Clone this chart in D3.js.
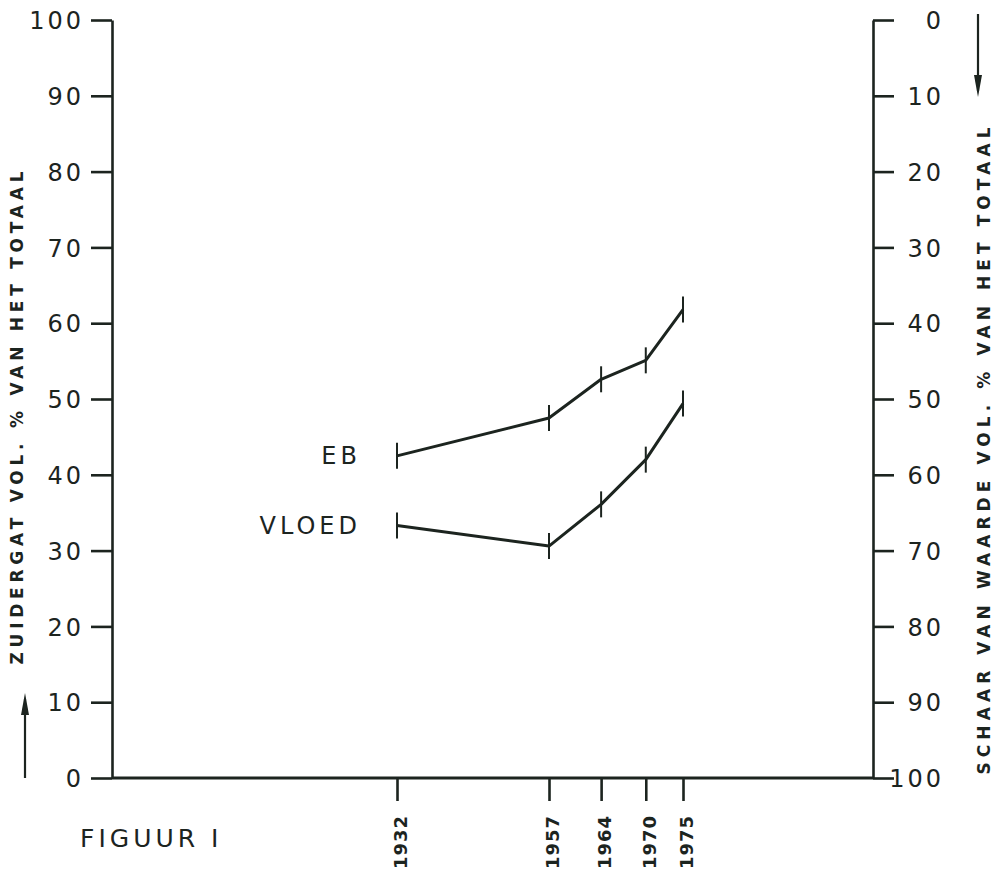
<!DOCTYPE html>
<html>
  <head>
    <meta charset="utf-8">
    <title>Figuur I</title>
    <script src="https://d3js.org/d3.v7.min.js"></script>
    <style>
      body { margin: 0; background: #fff; }
      svg { display: block; }
      text { font-family: "DejaVu Sans", sans-serif; fill: #1c241f; }
      .axis path, .axis line { stroke: #1c241f; stroke-width: 2.6; }
      .axis text { font-size: 24px; letter-spacing: 3px; }
      .xaxis text { font-size: 18px; font-weight: bold; letter-spacing: 1px; }
      .series { fill: none; stroke: #1c241f; stroke-width: 3; stroke-linejoin: round; }
      .marker { stroke: #1c241f; stroke-width: 2; }
      .label { font-size: 24px; letter-spacing: 4px; }
      .title { font-size: 17px; font-weight: bold; }
    </style>
  </head>
  <body>
    <svg id="chart" width="997" height="871"></svg>
    <script>
      // data
      years = [1932, 1957, 1964, 1970, 1975];
      eb = [42.5, 47.5, 52.6, 55.1, 61.8];
      vloed = [33.3, 30.6, 36.1, 42.0, 49.4];
      seriesNames = ["EB", "VLOED"];
      yTicks = [0, 10, 20, 30, 40, 50, 60, 70, 80, 90, 100];
      leftTitle = "ZUIDERGAT   VOL. % VAN HET TOTAAL";
      rightTitle = "SCHAAR VAN WAARDE   VOL. % VAN HET TOTAAL";
      caption = "FIGUUR I";

      // layout
      svg = d3.select("#chart");
      margin = { top: 20, right: 124, bottom: 93, left: 112 };
      width = 997;
      height = 871;
      plotLeft = margin.left;
      plotRight = width - margin.right;
      plotTop = margin.top;
      plotBottom = height - margin.bottom;

      // scales: the year axis in the original is not evenly spaced
      y = d3.scaleLinear().domain([0, 100]).range([plotBottom, plotTop]);
      yRight = d3.scaleLinear().domain([0, 100]).range([plotTop, plotBottom]);
      x = d3.scaleLinear()
        .domain([1932, 1957, 1975])
        .range([plotLeft + 285, plotLeft + 437, plotLeft + 571]);

      // left axis
      leftAxis = svg.append("g")
        .attr("class", "axis")
        .attr("transform", "translate(" + plotLeft + ",0)")
        .call(d3.axisLeft(y).tickValues(yTicks).tickSize(21).tickSizeOuter(0).tickPadding(7));
      leftAxis.selectAll("text").attr("dy", "0.36em");

      // right axis, reversed
      rightAxis = svg.append("g")
        .attr("class", "axis")
        .attr("transform", "translate(" + plotRight + ",0)")
        .call(d3.axisRight(yRight).tickValues(yTicks).tickSize(21).tickSizeOuter(0));
      rightAxis.selectAll("text")
        .attr("text-anchor", "end")
        .attr("x", 71)
        .attr("dy", "0.36em");

      // bottom axis with rotated years
      xAxis = svg.append("g")
        .attr("class", "axis xaxis")
        .attr("transform", "translate(0," + plotBottom + ")")
        .call(d3.axisBottom(x).tickValues(years).tickFormat(d3.format("d")).tickSize(23).tickSizeOuter(0));
      xAxis.select(".domain").remove();
      xAxis.selectAll("text")
        .attr("text-anchor", "end")
        .attr("transform", "translate(3,37) rotate(-90)")
        .attr("x", 0)
        .attr("y", 0)
        .attr("dy", "0.36em");
      svg.append("line")
        .attr("x1", plotLeft)
        .attr("x2", plotRight)
        .attr("y1", plotBottom)
        .attr("y2", plotBottom)
        .style("stroke", "#1c241f")
        .style("stroke-width", 2.8);

      // series
      line = d3.line()
        .x(function(d, i) { return x(years[i]); })
        .y(function(d) { return y(d); });
      [eb, vloed].forEach(function(values, s) {
        svg.append("path")
          .attr("class", "series")
          .attr("d", line(values));
        svg.selectAll(".marker" + s)
          .data(values)
          .enter().append("line")
            .attr("class", "marker marker" + s)
            .attr("x1", function(d, i) { return x(years[i]); })
            .attr("x2", function(d, i) { return x(years[i]); })
            .attr("y1", function(d) { return y(d) - 13; })
            .attr("y2", function(d) { return y(d) + 13; });
        svg.append("text")
          .attr("class", "label")
          .attr("x", x(years[0]) - 36)
          .attr("y", y(values[0]))
          .attr("dy", "0.36em")
          .attr("text-anchor", "end")
          .text(seriesNames[s]);
      });

      // axis titles
      svg.append("text")
        .attr("class", "title")
        .attr("transform", "translate(17,418) rotate(-90)")
        .attr("text-anchor", "middle")
        .attr("dy", "0.36em")
        .attr("textLength", 493)
        .attr("lengthAdjust", "spacing")
        .text(leftTitle);
      svg.append("text")
        .attr("class", "title")
        .attr("transform", "translate(984,451) rotate(-90)")
        .attr("text-anchor", "middle")
        .attr("dy", "0.36em")
        .attr("textLength", 647)
        .attr("lengthAdjust", "spacing")
        .text(rightTitle);

      // direction arrows
      arrows = [
        { x: 25, from: plotBottom, to: 693 },
        { x: 978, from: 14, to: 97 }
      ];
      arrows.forEach(function(a) {
        dir = a.to < a.from ? -1 : 1;
        svg.append("line")
          .attr("x1", a.x).attr("x2", a.x)
          .attr("y1", a.from).attr("y2", a.to - dir * 6)
          .style("stroke", "#1c241f")
          .style("stroke-width", 2.2);
        svg.append("path")
          .attr("d", "M" + a.x + "," + a.to +
            "L" + (a.x - 4) + "," + (a.to - dir * 22) +
            "L" + (a.x + 4) + "," + (a.to - dir * 22) + "Z")
          .style("fill", "#1c241f");
      });

      // caption
      svg.append("text")
        .attr("x", 80)
        .attr("y", 847)
        .style("font-size", "25px")
        .style("letter-spacing", "4px")
        .text(caption);
    </script>
  </body>
</html>
